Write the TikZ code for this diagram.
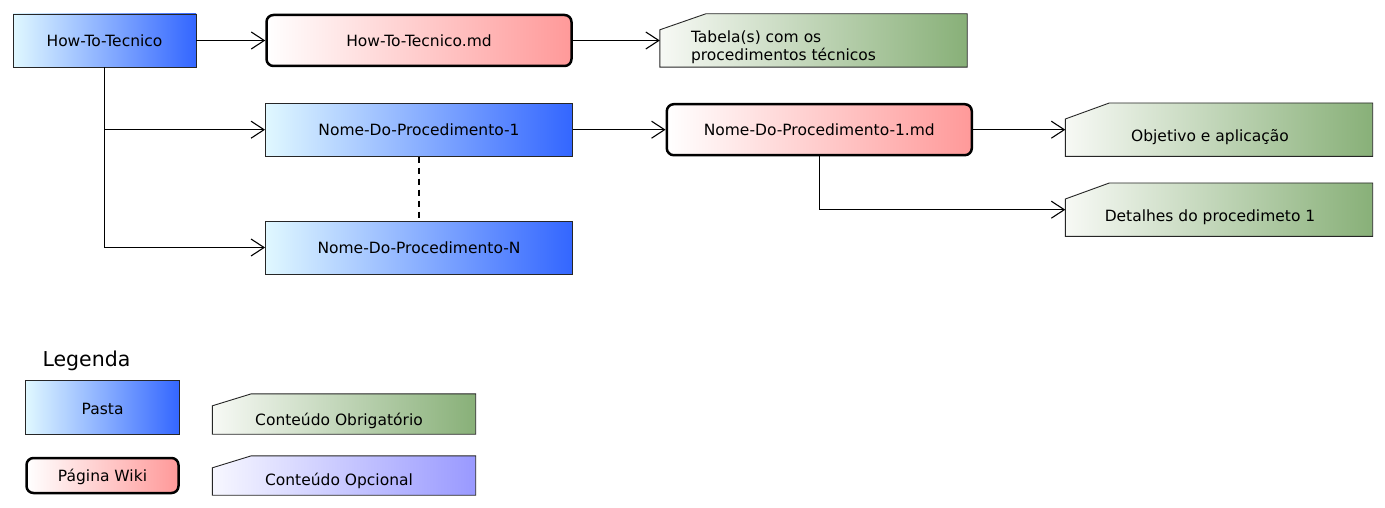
\documentclass[tikz,border=0pt]{standalone}
\usepackage{fontspec}
\setmainfont{DejaVu Sans}
\usetikzlibrary{arrows.meta,backgrounds}

\definecolor{pastaL}{HTML}{E0F8FF}
\definecolor{pastaR}{HTML}{3366FF}
\definecolor{wikiR}{HTML}{FF9999}
\definecolor{obrigL}{HTML}{F7F9F5}
\definecolor{obrigR}{HTML}{88B078}
\definecolor{opcL}{HTML}{F7F7FF}
\definecolor{opcR}{HTML}{9999FF}

\newcommand\texto{\fontsize{15.5}{18}\selectfont}
% desloca o texto de uma nota (x e y em pt)
\newcommand\desce[3][0]{\raisebox{-#2pt}[\height][\depth]{\hspace*{#1pt}#3\hspace*{-#1pt}}}
% contorno de nota com canto cortado
\newcommand\contorno[4]{\shadedraw[fino, left color=#2L, right color=#2R]
  (#1.south west) -- ([yshift=-#4]#1.north west) -- ([xshift=#3]#1.north west)
  -- (#1.north east) -- (#1.south east) -- cycle;}

\begin{document}
\begin{tikzpicture}[x=1pt,y=-1pt,
    fino/.style={draw=black!85, line width=0.9pt},
    pasta/.style={fino, left color=pastaL, right color=pastaR, minimum height=53pt, inner sep=0pt, font=\texto},
    wiki/.style={draw=black, line width=2.5pt, rounded corners=7pt, left color=white, right color=wikiR, minimum width=305pt, minimum height=51pt, inner sep=0pt, font=\texto},
    nota/.style={inner sep=0pt, minimum width=307pt, minimum height=53pt, font=\texto},
    seta/.style={-{Straight Barb[length=13pt,width=17pt]}, line width=1.1pt}]
  \useasboundingbox (0,0) rectangle (1385,508);

  \node[pasta, minimum width=183pt] (howto) at (104.5,40.5) {How-To-Tecnico};
  \node[wiki] (howtomd) at (419,40.5) {How-To-Tecnico.md};
  \node[nota] (tabela) at (813.5,40.5) {\desce[-30]{7}{\begin{tabular}{@{}l@{}}Tabela(s) com os\\procedimentos técnicos\end{tabular}}};
  \node[pasta, minimum width=307pt] (nome1) at (419,129.7) {Nome-Do-Procedimento-1};
  \node[pasta, minimum width=307pt] (nomen) at (419,247.5) {Nome-Do-Procedimento-N};
  \node[wiki] (nome1md) at (819.3,129.7) {Nome-Do-Procedimento-1.md};
  \node[nota] (objetivo) at (1219,129.7) {\desce[-9]{7}{Objetivo e aplicação}};
  \node[nota] (detalhes) at (1219,209.7) {\desce[-9]{7.5}{Detalhes do procedimeto 1}};

  \draw[seta] (howto) -- (howtomd);
  \draw[seta] (howtomd) -- (tabela);
  \draw[seta] (howto.south) |- (nome1.west);
  \draw[seta] (howto.south) |- (nomen.west);
  \draw[line width=1.1pt, dash pattern=on 6pt off 5pt] (nome1) -- (nomen);
  \draw[seta] (nome1) -- (nome1md);
  \draw[seta] (nome1md) -- (objetivo);
  \draw[seta] (nome1md.south) |- (detalhes.west);

  % legenda
  \node[anchor=base west, font=\fontsize{20.5}{24}\selectfont] (legenda) at (39,366.7) {Legenda};
  \node[pasta, minimum width=154pt, minimum height=54pt] (pastaleg) at (102.6,407.2) {\desce{1.5}{Pasta}};
  \node[wiki, minimum width=152pt, minimum height=35pt] (wikileg) at (102.5,475.5) {\desce{1.5}{Página Wiki}};
  \node[nota, minimum width=263pt, minimum height=40pt] (obrig) at (344,414) {\desce[-5]{6.5}{Conteúdo Obrigatório}};
  \node[nota, minimum width=263pt, minimum height=39pt] (opc) at (344,475.5) {\desce[-5]{5}{Conteúdo Opcional}};

  \begin{scope}[on background layer]
    \contorno{tabela}{obrig}{46pt}{16pt}
    \contorno{objetivo}{obrig}{44pt}{16pt}
    \contorno{detalhes}{obrig}{44pt}{16pt}
    \contorno{obrig}{obrig}{39pt}{12pt}
    \contorno{opc}{opc}{39pt}{12pt}
  \end{scope}
\end{tikzpicture}
\end{document}
